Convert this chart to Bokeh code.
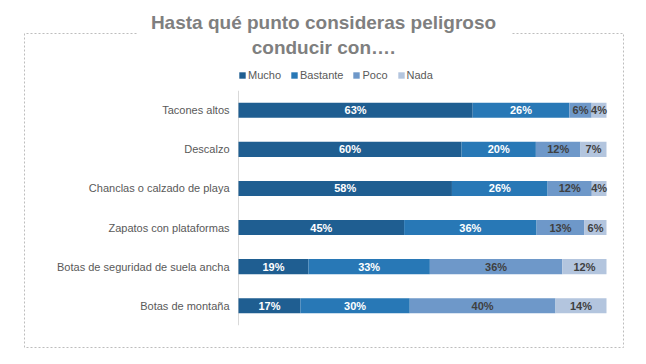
from bokeh.plotting import figure
from bokeh.models import ColumnDataSource, Range1d, Legend, LegendItem
from bokeh.core.properties import value
from bokeh.embed import file_html
from bokeh.resources import INLINE

# ---- data ----
categories = ["Tacones altos", "Descalzo", "Chanclas o calzado de playa",
              "Zapatos con plataformas", "Botas de seguridad de suela ancha",
              "Botas de montaña"]
series = ["Mucho", "Bastante", "Poco", "Nada"]
mucho = [63, 60, 58, 45, 19, 17]
bastante = [26, 20, 26, 36, 33, 30]
poco = [6, 12, 12, 13, 36, 40]
nada = [4, 7, 4, 6, 12, 14]
title_lines = ["Hasta qué punto consideras peligroso", "conducir con…."]

colors = ["#1f5e91", "#2878b6", "#6e98c9", "#b3c5de"]
label_colors = ["#ffffff", "#ffffff", "#3f3f3f", "#3f3f3f"]
FONT = "Liberation Sans"

W, H = 630, 348
raw = [mucho, bastante, poco, nada]
rows = list(range(len(categories)))
totals = [sum(r[i] for r in raw) for i in rows]
shares = [[r[i] / totals[i] * 100 for i in rows] for r in raw]

data = {"row": rows, "cat": categories}
for name, sh in zip(series, shares):
    data[name] = sh
source = ColumnDataSource(data)

p = figure(width=W, height=H, output_backend="svg", toolbar_location=None,
           x_range=Range1d(-64.67, 106.52), y_range=Range1d(6.095, -2.81),
           min_border=0, min_border_left=0, min_border_right=0,
           min_border_top=0, min_border_bottom=0)
p.axis.visible = False
p.grid.visible = False
p.outline_line_color = None
p.background_fill_color = "white"
p.border_fill_color = "white"
p.extra_x_ranges = {"px": Range1d(0, W)}
p.extra_y_ranges = {"px": Range1d(H, 0)}

# dashed frame around chart area with a gap under the title
p.line(x=[136, 24, 24, 623, 623, 512], y=[33, 33, 347, 347, 33, 33],
       x_range_name="px", y_range_name="px",
       line_color="#bdbdbd", line_dash="2 2", line_width=1)

# title
p.text(x=[323, 323], y=[21.6, 46.6], text=title_lines,
       x_range_name="px", y_range_name="px",
       text_font=value(FONT), text_font_size="19px", text_font_style="bold",
       text_color="#7f7f7f", text_align="center", text_baseline="alphabetic")

# axis line
p.segment(x0=[0], y0=[-0.5], x1=[0], y1=[len(categories) - 0.5],
          line_color="#d9d9d9", line_width=1)

# stacked bars
renderers = p.hbar_stack(series, y="row", height=0.385, color=colors,
                         line_color=None, source=source)

# value labels
for k, name in enumerate(series):
    lx, ly, lt = [], [], []
    for i in rows:
        start = sum(shares[j][i] for j in range(k))
        lx.append(start + shares[k][i] / 2)
        ly.append(i)
        lt.append(f"{raw[k][i]}%")
    p.text(x=lx, y=ly, text=lt, text_font=value(FONT), text_font_size="11px",
           text_font_style="bold", text_color=label_colors[k],
           text_align="center", text_baseline="middle")

# category labels
p.text(x=[0] * len(rows), y=rows, text=categories, x_offset=-9,
       text_font=value(FONT), text_font_size="11px", text_color="#595959",
       text_align="right", text_baseline="middle")

legend = Legend(items=[LegendItem(label=n, renderers=[r]) for n, r in zip(series, renderers)],
                orientation="horizontal", location=(238, 267),
                glyph_width=8, glyph_height=8, label_standoff=2, spacing=9,
                padding=0, margin=0, label_height=12,
                label_text_font=FONT, label_text_font_size="11px",
                label_text_color="#595959", border_line_color=None,
                background_fill_alpha=0)
p.add_layout(legend)

open("out.html", "w").write(file_html(p, INLINE))
